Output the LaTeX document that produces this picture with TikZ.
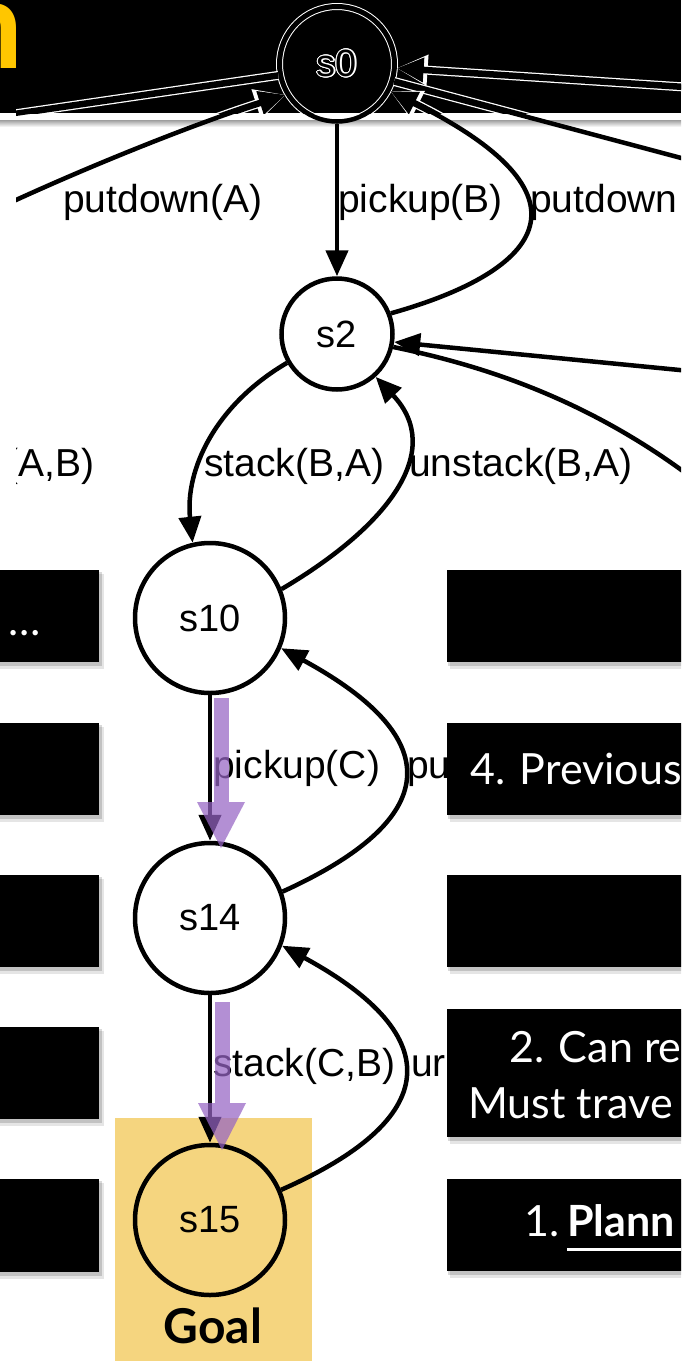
\documentclass[tikz,border=0pt]{standalone}
\usepackage{fontspec}
\usepackage{contour}
\usetikzlibrary{arrows.meta}
\newfontfamily\gvfont{Liberation Sans}
\newfontfamily\slidefont{Lato}
\contourlength{1.1pt}
\definecolor{goalgold}{RGB}{245,213,127}
\definecolor{titlegold}{RGB}{255,198,0}
\definecolor{pathpurple}{RGB}{150,100,196}

% black caption panel with a soft drop shadow: x1, y1, x2, y2
\newcommand\panelbox[4]{%
  \fill[black, opacity=0.10] (#1+3,#2+4) rectangle (#3+5,#4+7);
  \fill[black, opacity=0.15] (#1+1,#2+2) rectangle (#3+3,#4+4);
  \fill[black] (#1,#2) rectangle (#3,#4);}

% edges that pass through the title band (drawn twice)
\newcommand\pLeftTop{(s0.191) -- (lt)}
\newcommand\pRightLow{(s0.-17) -- (rl)}
\newcommand\pRightUp{(ru) -- (s0.-4)}
\newcommand\pPutA{(pa) .. controls (90,165) and (200,122) .. (s0.211)}
\newcommand\pPutB{(s2.21) .. controls (545,270) and (600,195) .. (s0.-27)}

\begin{document}
\begin{tikzpicture}[x=1pt, y=-1pt,
  state/.style={circle, draw=black, line width=4.5pt, inner sep=0pt,
    font=\gvfont\fontsize{38}{38}\selectfont},
  edge/.style={draw=black, line width=4.5pt},
  tip/.style={-{Triangle[length=26pt,width=22pt]}},
  glowline/.style={draw=white, line width=9pt},
  glowtip/.style={-{Triangle[length=31pt,width=29pt]}},
  coreline/.style={draw=black, line width=6.5pt},
  coretip/.style={-{Triangle[length=27pt,width=23pt]}},
  lbl/.style={font=\gvfont\fontsize{39}{39}\selectfont, inner sep=0pt},
  slide/.style={font=\slidefont\fontsize{43}{43}\selectfont, text=white, inner sep=0pt},
  hlshaft/.style={draw=pathpurple, line width=15pt, opacity=0.72},
  hlhead/.style={fill=pathpurple, opacity=0.72}
]
\useasboundingbox (0,0) rectangle (681,1361);
\begin{scope}
\clip (0,0) rectangle (681,1361);
\fill[white] (0,0) rectangle (681,1361);

% title band
\fill[black] (0,0) rectangle (681,113);
\shade[top color=black!38, bottom color=white] (0,120) rectangle (681,127);
\node[font=\slidefont\bfseries\fontsize{124}{124}\selectfont, text=titlegold,
  anchor=base east, inner sep=0pt] (title) at (24,68) {n};

% goal highlight
\fill[goalgold] (115,1118) rectangle (312,1361);

% state graph
\begin{scope}
\clip (16,0) rectangle (681,1361);
\node[state, minimum size=115pt] (s0) at (337,64) {\contour{white}{s0}};
\node[state, minimum size=111pt] (s2) at (337,334) {s2};
\node[state, minimum size=150pt] (s10) at (210,618) {s10};
\node[state, minimum size=150pt] (s14) at (210,918) {s14};
\node[state, minimum size=150pt] (s15) at (210,1220) {s15};

\coordinate (lt) at (-20,119);
\coordinate (rl) at (700,163);
\coordinate (ru) at (700,88);
\coordinate (pa) at (-10,212);
\coordinate (r2a) at (700,372);
\coordinate (r2b) at (720,500);

\draw[edge] \pLeftTop;
\draw[edge, tip] \pPutA;
\draw[edge, tip] \pRightUp;
\draw[edge] \pRightLow;
\draw[edge, tip] (s0) -- (s2);
\draw[edge, tip] \pPutB;
\draw[edge, tip] (s2.210) .. controls (215,405) and (185,470) .. (s10.103);
\draw[edge, tip] (s10.22) .. controls (390,525) and (445,450) .. (s2.-48);
\draw[edge, tip] (r2a) -- (s2.-8);
\draw[edge] (s2.-13) .. controls (480,365) and (600,400) .. (r2b);
\draw[edge, tip] (s10) -- (s14);
\draw[edge, tip] (s14.20) .. controls (440,820) and (450,740) .. (s10.-23);
\draw[edge, tip] (s14) -- (s15);
\draw[edge, tip] (s15.23) .. controls (440,1120) and (450,1037) .. (s14.-21);

\node[lbl, anchor=base west] (lpa) at (63,212) {putdown(A)};
\node[lbl, anchor=base west] (lpb) at (338,212) {pickup(B)};
\node[lbl, anchor=base west] (lpdb) at (530,212) {putdown};
\node[lbl, anchor=base east] (lab) at (95,476) {(A,B)};
\node[lbl, anchor=base west] (lsba) at (204,476) {stack(B,A)};
\node[lbl, anchor=base west] (lusba) at (409,476) {unstack(B,A)};
\node[lbl, anchor=base west] (lpc) at (213,778) {pickup(C)};
\node[lbl, anchor=base west] (lpdc) at (407,778) {pu};
\node[lbl, anchor=base west] (lscb) at (213,1076) {stack(C,B)};
\node[lbl, anchor=base west] (luscb) at (411,1076) {ur};

% inside the band the strokes show as white outlines
\begin{scope}
\clip (16,0) rectangle (681,113);
\draw[white, line width=7pt] (s0.center) circle[radius=57.5];
\draw[black, line width=5pt] (s0.center) circle[radius=57.5];
\draw[glowline] \pLeftTop;  \draw[coreline] \pLeftTop;
\draw[glowline] \pRightLow; \draw[coreline] \pRightLow;
\draw[glowline, glowtip] \pPutA;    \draw[coreline, coretip] \pPutA;
\draw[glowline, glowtip] \pPutB;    \draw[coreline, coretip] \pPutB;
\draw[glowline, glowtip] \pRightUp; \draw[coreline, coretip] \pRightUp;
\end{scope}
\end{scope}

% highlighted plan steps
\coordinate (h1s) at (221,698); \coordinate (h1m) at (221,802); \coordinate (h1t) at (221,848);
\coordinate (h2s) at (222,1002); \coordinate (h2m) at (222,1103); \coordinate (h2t) at (222,1150);
\draw[hlshaft] (h1s) -- (h1m);
\fill[hlhead] (h1m) ++(-24,0) -- ++(48,0) -- (h1t) -- cycle;
\draw[hlshaft] (h2s) -- (h2m);
\fill[hlhead] (h2m) ++(-24,0) -- ++(48,0) -- (h2t) -- cycle;

% caption panels
\panelbox{-10}{570}{99}{662}
\panelbox{-10}{723}{99}{815}
\panelbox{-10}{875}{99}{967}
\panelbox{-10}{1027}{99}{1119}
\panelbox{-10}{1179}{99}{1272}
\panelbox{447}{570}{700}{662}
\panelbox{447}{723}{700}{815}
\panelbox{447}{875}{700}{967}
\panelbox{447}{1009}{700}{1137}
\panelbox{447}{1179}{700}{1271}

\node[slide, anchor=base east] (dots) at (41,635) {…};
\node[slide, anchor=base west] (prev) at (470,784) {4. Previous};
\node[slide, anchor=base west] (canre) at (509,1062) {2. Can re};
\node[slide, anchor=base west] (must) at (468,1118) {Must trave};
\node[slide, anchor=base west] (one) at (524,1236) {1.};
\node[slide, font=\slidefont\bfseries\fontsize{43}{43}\selectfont, anchor=base west] (plan) at (567,1236) {Plann};
\draw[white, line width=3pt] (plan.base west) ++(0,13) -- ++(150,0);

\node[font=\slidefont\bfseries\fontsize{48}{48}\selectfont, anchor=base, inner sep=0pt] (goal) at (213,1343) {Goal};
\end{scope}
\end{tikzpicture}
\end{document}
